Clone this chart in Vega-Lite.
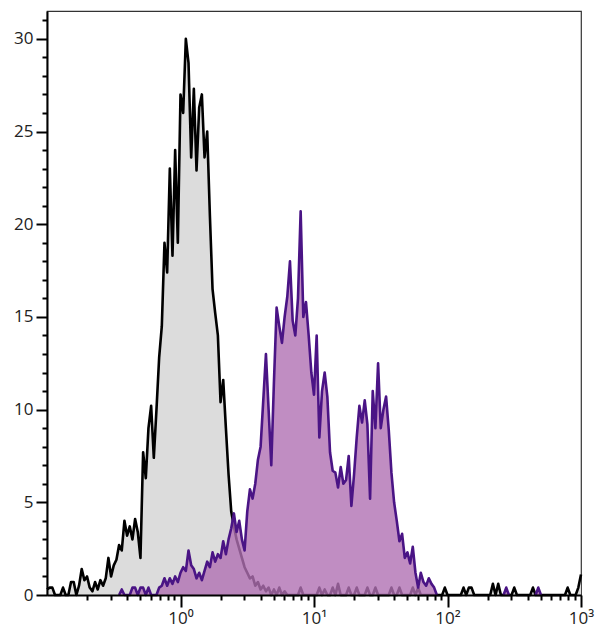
{
  "$schema": "https://vega.github.io/schema/vega-lite/v6.json",
  "width": 534,
  "height": 584,
  "autosize": {"type": "none"},
  "padding": {"left": 47, "top": 11, "right": 19, "bottom": 45},
  "background": "white",
  "config": {"view": {"stroke": "#333333", "strokeWidth": 1.2}, "font": "Open Sans"},
  "data": {"values": [
    {"x":0.1,"g":0.3},{"x":0.10471,"g":0.4},{"x":0.10965,"g":0.4},{"x":0.11482,"g":0},{"x":0.12023,"g":0},{"x":0.12589,"g":0},{"x":0.13183,"g":0.4},{"x":0.13804,"g":0},{"x":0.14454,"g":0},{"x":0.15136,"g":0.7},{"x":0.15849,"g":0.7},{"x":0.16596,"g":0},{"x":0.17378,"g":0.5},{"x":0.18197,"g":1.4},{"x":0.19055,"g":0.8},{"x":0.19953,"g":1.0},{"x":0.20893,"g":0.4},{"x":0.21878,"g":0.2},{"x":0.22909,"g":0.7},{"x":0.23988,"g":0.3},{"x":0.25119,"g":0.8},{"x":0.26303,"g":0.5},{"x":0.27542,"g":0.9},{"x":0.2884,"g":2.0},{"x":0.302,"g":1.0},{"x":0.31623,"g":1.6},{"x":0.33113,"g":1.9},
    {"x":0.34674,"g":2.7,"p":0},{"x":0.36308,"g":2.4,"p":0.3},{"x":0.38019,"g":4.0,"p":0},{"x":0.39811,"g":3.2,"p":0},{"x":0.41687,"g":3.7,"p":0},{"x":0.43652,"g":3.0,"p":0.4},{"x":0.45709,"g":4.1,"p":0.4},{"x":0.47863,"g":3.4,"p":0},{"x":0.50119,"g":2.0,"p":0.4},{"x":0.52481,"g":7.7,"p":0.4},{"x":0.54954,"g":6.3,"p":0},{"x":0.57544,"g":9.0,"p":0.4},{"x":0.60256,"g":10.2,"p":0},{"x":0.63096,"g":7.4,"p":0},{"x":0.66069,"g":10.0,"p":0},{"x":0.69183,"g":12.8,"p":0.4},{"x":0.72444,"g":14.5,"p":0.5},{"x":0.75858,"g":19.0,"p":0.9},{"x":0.79433,"g":17.4,"p":0.5},{"x":0.83176,"g":23.0,"p":0.9},{"x":0.87096,"g":18.3,"p":0.6},{"x":0.91201,"g":24.0,"p":1.0},{"x":0.95499,"g":19.0,"p":0.7},
    {"x":1,"g":27.0,"p":1.2},{"x":1.0471,"g":26.0,"p":1.5},{"x":1.0965,"g":30.0,"p":1.3},{"x":1.1482,"g":28.7,"p":2.4},{"x":1.2023,"g":23.6,"p":1.6},{"x":1.2589,"g":27.3,"p":1.4},{"x":1.3183,"g":22.9,"p":0.9},{"x":1.3804,"g":26.3,"p":1.2},{"x":1.4454,"g":27.0,"p":0.8},{"x":1.5136,"g":23.6,"p":1.3},{"x":1.5849,"g":25.0,"p":1.8},{"x":1.6596,"g":20.5,"p":1.5},{"x":1.7378,"g":16.5,"p":2.3},{"x":1.8197,"g":15.2,"p":1.8},{"x":1.9055,"g":14.0,"p":2.2},{"x":1.9953,"g":10.4,"p":2.0},{"x":2.0893,"g":11.6,"p":2.9},{"x":2.1878,"g":9.0,"p":2.2},{"x":2.2909,"g":6.5,"p":3.0},{"x":2.3988,"g":4.5,"p":3.6},{"x":2.5119,"g":3.7,"p":4.4},{"x":2.6303,"g":3.0,"p":3.4},{"x":2.7542,"g":2.5,"p":4.0},{"x":2.884,"g":2.0,"p":3.0},{"x":3.02,"g":1.5,"p":2.4},{"x":3.1623,"g":1.2,"p":4.5},{"x":3.3113,"g":0.9,"p":5.7},{"x":3.4674,"g":1.0,"p":5.2},{"x":3.6308,"g":0.5,"p":6.0},{"x":3.8019,"g":0.7,"p":7.3},{"x":3.9811,"g":0.3,"p":8.0},{"x":4.1687,"g":0.5,"p":10.5},{"x":4.3652,"g":0.2,"p":13.0},{"x":4.5709,"g":0.4,"p":10.0},{"x":4.7863,"g":0,"p":7.0},{"x":5.0119,"g":0.3,"p":11.5},{"x":5.2481,"g":0,"p":15.5},{"x":5.4954,"g":0.4,"p":14.5},{"x":5.7544,"g":0,"p":13.6},{"x":6.0256,"g":0.2,"p":15.0},{"x":6.3096,"g":0,"p":16.1},{"x":6.6069,"g":0,"p":18.0},{"x":6.9183,"g":0,"p":14.8},{"x":7.2444,"g":0,"p":14.0},{"x":7.5858,"g":0,"p":16.0},{"x":7.9433,"g":0.4,"p":20.7},{"x":8.3176,"g":0,"p":15.0},{"x":8.7096,"g":0,"p":15.8},{"x":9.1201,"g":0,"p":14.0},{"x":9.5499,"g":0,"p":12.0},
    {"x":10,"g":0,"p":10.8},{"x":10.471,"g":0,"p":14.0},{"x":10.965,"g":0.4,"p":8.5},{"x":11.482,"g":0,"p":11.0},{"x":12.023,"g":0.3,"p":12.0},{"x":12.589,"g":0,"p":10.7},{"x":13.183,"g":0,"p":7.7},{"x":13.804,"g":0.4,"p":6.7},{"x":14.454,"g":0,"p":6.6},{"x":15.136,"g":0.6,"p":5.8},{"x":15.849,"g":0,"p":6.9},{"x":16.596,"g":0,"p":6.0},{"x":17.378,"g":0,"p":6.2},{"x":18.197,"g":0.4,"p":7.5},{"x":19.055,"g":0,"p":4.8},{"x":19.953,"g":0,"p":6.5},{"x":20.893,"g":0.4,"p":8.5},{"x":21.878,"g":0,"p":10.2},{"x":22.909,"g":0,"p":9.3},{"x":23.988,"g":0,"p":10.5},{"x":25.119,"g":0.4,"p":9.2},{"x":26.303,"g":0,"p":5.2},{"x":27.542,"g":0,"p":11.0},{"x":28.84,"g":0.4,"p":9.0},{"x":30.2,"g":0,"p":12.5},{"x":31.623,"g":0,"p":9.0},{"x":33.113,"g":0,"p":10.0},{"x":34.674,"g":0,"p":10.7},{"x":36.308,"g":0,"p":8.9},{"x":38.019,"g":0.4,"p":6.6},{"x":39.811,"g":0,"p":5.0},{"x":41.687,"g":0,"p":4.0},{"x":43.652,"g":0.4,"p":2.9},{"x":45.709,"g":0,"p":3.3},{"x":47.863,"g":0,"p":2.0},{"x":50.119,"g":0,"p":2.3},{"x":52.481,"g":0,"p":1.7},{"x":54.954,"g":0.4,"p":2.6},{"x":57.544,"g":0,"p":1.2},{"x":60.256,"g":0.4,"p":0.4},{"x":63.096,"g":0,"p":1.2},{"x":66.069,"g":0,"p":0.7},{"x":69.183,"g":0,"p":0.5},{"x":72.444,"g":0,"p":0.9},{"x":75.858,"g":0,"p":0.6},{"x":79.433,"g":0,"p":0.4},{"x":83.176,"g":0,"p":0},{"x":87.096,"g":0},{"x":91.201,"g":0},{"x":95.499,"g":0.4},
    {"x":100,"g":0},{"x":125.89,"g":0},{"x":131.83,"g":0.4},{"x":138.04,"g":0},{"x":144.54,"g":0.4},{"x":151.36,"g":0.4},{"x":158.49,"g":0},{"x":208.93,"g":0},{"x":218.78,"g":0.6},{"x":229.09,"g":0},{"x":239.88,"g":0.6},{"x":251.19,"g":0},{"x":263.03,"g":0,"p":0},{"x":275.42,"g":0,"p":0.4},{"x":288.4,"g":0,"p":0},{"x":302,"g":0},{"x":316.23,"g":0.4},{"x":331.13,"g":0},{"x":416.87,"g":0},{"x":436.52,"g":0.4},{"x":457.09,"g":0,"p":0},{"x":478.63,"g":0,"p":0.4},{"x":501.19,"g":0,"p":0},{"x":758.58,"g":0},{"x":794.33,"g":0.4},{"x":831.76,"g":0},{"x":912.01,"g":0},{"x":954.99,"g":0.4},{"x":1000,"g":1.1}
  ]},
  "layer": [
    {
      "mark": {"type": "area", "color": "#dcdcdc", "interpolate": "linear"},
      "encoding": {
        "x": {"field": "x", "type": "quantitative", "scale": {"type": "log", "domain": [0.1, 1000], "nice": false},
          "axis": {"orient": "bottom", "values": [1, 10, 100, 1000], "tickSize": 12, "tickWidth": 2, "tickColor": "#000", "domainColor": "#000", "domainWidth": 2, "labelFontSize": 17, "labelColor": "#222", "labelFont": "Open Sans", "labelPadding": 3, "labelFlush": false, "labelOverlap": false, "labelExpr": "datum.value == 1 ? '10⁰' : datum.value == 10 ? '10¹' : datum.value == 100 ? '10²' : '10³'", "grid": false, "title": null, "zindex": 1}},
        "y": {"field": "g", "type": "quantitative", "scale": {"domain": [0, 31.5], "nice": false},
          "axis": {"orient": "left", "values": [0, 5, 10, 15, 20, 25, 30], "tickSize": 11, "tickWidth": 2, "tickColor": "#000", "domainColor": "#000", "domainWidth": 2, "labelFontSize": 17, "labelColor": "#222", "labelFont": "Open Sans", "labelPadding": 3, "labelFlush": false, "grid": false, "title": null, "zindex": 1}}
      }
    },
    {
      "mark": {"type": "line", "color": "#000", "strokeWidth": 2.6, "strokeJoin": "round", "interpolate": "linear"},
      "encoding": {
        "x": {"field": "x", "type": "quantitative", "scale": {"type": "log", "domain": [0.1, 1000], "nice": false},
          "axis": {"orient": "bottom", "values": [0.2, 0.3, 0.4, 0.5, 0.6, 0.7, 0.8, 0.9, 2, 3, 4, 5, 6, 7, 8, 9, 20, 30, 40, 50, 60, 70, 80, 90, 200, 300, 400, 500, 600, 700, 800, 900], "tickSize": 5, "tickWidth": 2, "tickColor": "#000", "labels": false, "domain": false, "grid": false, "title": null, "zindex": 1}},
        "y": {"field": "g", "type": "quantitative", "scale": {"domain": [0, 31.5], "nice": false},
          "axis": {"orient": "left", "values": [1, 2, 3, 4, 6, 7, 8, 9, 11, 12, 13, 14, 16, 17, 18, 19, 21, 22, 23, 24, 26, 27, 28, 29, 31], "tickSize": 5, "tickWidth": 2, "tickColor": "#000", "labels": false, "domain": false, "grid": false, "title": null, "zindex": 1}}
      }
    },
    {
      "mark": {"type": "area", "color": "#b070b3", "opacity": 0.8, "interpolate": "linear", "invalid": "break-paths-filter-domains"},
      "encoding": {
        "x": {"field": "x", "type": "quantitative", "scale": {"type": "log", "domain": [0.1, 1000], "nice": false}, "axis": null},
        "y": {"field": "p", "type": "quantitative", "scale": {"domain": [0, 31.5], "nice": false}, "axis": null}
      }
    },
    {
      "mark": {"type": "line", "color": "#4a1485", "strokeWidth": 2.6, "strokeJoin": "round", "interpolate": "linear", "invalid": "break-paths-filter-domains"},
      "encoding": {
        "x": {"field": "x", "type": "quantitative", "scale": {"type": "log", "domain": [0.1, 1000], "nice": false}, "axis": null},
        "y": {"field": "p", "type": "quantitative", "scale": {"domain": [0, 31.5], "nice": false}, "axis": null}
      }
    }
  ],
  "resolve": {"axis": {"x": "independent", "y": "independent"}}
}
